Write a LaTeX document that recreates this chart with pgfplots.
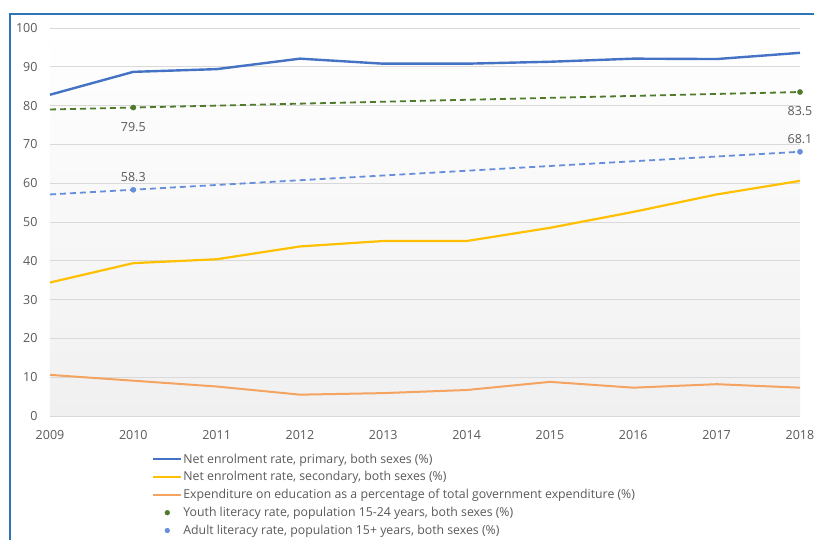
\documentclass[border=0pt]{standalone}
\usepackage{fontspec}
\setmainfont{Open Sans}
\usepackage{pgfplots}
\pgfplotsset{compat=1.18}
\definecolor{cprim}{RGB}{68,114,196}
\definecolor{csec}{RGB}{255,192,0}
\definecolor{cexp}{RGB}{244,164,96}
\definecolor{cyouth}{RGB}{78,122,42}
\definecolor{cadult}{RGB}{102,142,220}
\definecolor{cframe}{RGB}{46,117,182}
\definecolor{ctext}{RGB}{89,89,89}
\definecolor{cgrid}{RGB}{217,217,217}
\definecolor{cbg}{RGB}{240,240,240}
\pgfplotsset{
  linelegend/.style={legend image code/.code={\draw[##1,line width=2.2pt] (0pt,0pt) -- (28pt,0pt);}},
  dotlegend/.style={legend image code/.code={\fill[#1] (14pt,0pt) circle (2.4pt);}},
}
\begin{document}
\begin{tikzpicture}
\useasboundingbox (0,0) rectangle (814pt,539pt);
\draw[cframe, line width=2pt] (10pt,-5pt) -- (10pt,525pt) -- (820pt,525pt);
\begin{axis}[
  at={(50pt,123pt)}, anchor=south west,
  scale only axis, width=750pt, height=388pt,
  xmin=2009, xmax=2018, ymin=0, ymax=100,
  xtick={2009,...,2018}, ytick={0,10,...,100},
  /pgf/number format/assume math mode=true,
  xticklabel={\pgfmathprintnumber[1000 sep={}]{\tick}},
  axis line style={draw=none},
  major tick length=0pt,
  ymajorgrids, grid style={cgrid, line width=0.8pt},
  axis background/.style={shade, top color=white, bottom color=cbg},
  tick label style={font=\fontsize{12.5}{15}\selectfont, text=ctext},
  yticklabel style={xshift=-9pt},
  xticklabel style={yshift=-11pt},
  clip=false,
  legend cell align=left,
  legend style={at={(0.136,-0.094)}, anchor=north west, draw=none, fill=none,
    font=\fontsize{12.3}{14}\selectfont, text=ctext, inner sep=0pt, row sep=5pt,
    nodes={inner sep=1pt},
    /tikz/every even column/.append style={column sep=3pt}},
  every node near coord/.append style={font=\fontsize{12.5}{15}\selectfont, text=ctext},
]
\addplot[cprim, line width=2.4pt, linelegend] coordinates {
 (2009,82.8) (2010,88.7) (2011,89.4) (2012,92.1) (2013,90.8) (2014,90.8) (2015,91.3) (2016,92.1) (2017,92.0) (2018,93.6)};
\addlegendentry{Net enrolment rate, primary, both sexes (\%)}
\addplot[csec, line width=2.2pt, linelegend] coordinates {
 (2009,34.4) (2010,39.4) (2011,40.4) (2012,43.7) (2013,45.1) (2014,45.1) (2015,48.5) (2016,52.6) (2017,57.1) (2018,60.6)};
\addlegendentry{Net enrolment rate, secondary, both sexes (\%)}
\addplot[cexp, line width=2pt, linelegend] coordinates {
 (2009,10.6) (2010,9.1) (2011,7.6) (2012,5.5) (2013,5.9) (2014,6.7) (2015,8.8) (2016,7.3) (2017,8.2) (2018,7.3)};
\addlegendentry{Expenditure on education as a percentage of total government expenditure (\%)}
\addplot[only marks, mark=*, mark size=2.6pt, cyouth, dotlegend=cyouth,
  point meta=explicit symbolic, nodes near coords,
  nodes near coords style={anchor=north, yshift=-11pt}] coordinates {
 (2010,79.5) [79.5] (2018,83.5) [83.5]};
\addlegendentry{Youth literacy rate, population 15-24 years, both sexes (\%)}
\addplot[only marks, mark=*, mark size=2.6pt, cadult, dotlegend=cadult,
  point meta=explicit symbolic, nodes near coords,
  nodes near coords style={anchor=south, yshift=5pt}] coordinates {
 (2010,58.3) [58.3] (2018,68.1) [68.1]};
\addlegendentry{Adult literacy rate, population 15+ years, both sexes (\%)}
\addplot[cyouth, line width=1.8pt, dash pattern=on 6pt off 4pt, forget plot] coordinates {
 (2009,79.0) (2018,83.5)};
\addplot[cadult, line width=1.8pt, dash pattern=on 6pt off 4pt, forget plot] coordinates {
 (2009,57.1) (2018,68.1)};
\end{axis}
\end{tikzpicture}
\end{document}
